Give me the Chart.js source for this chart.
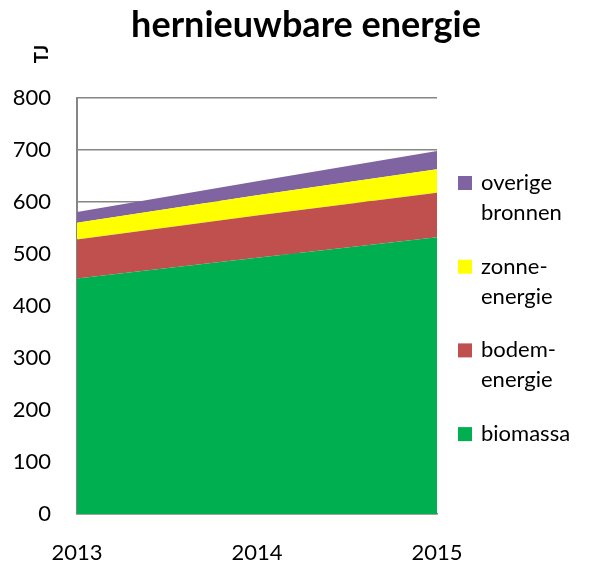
<!DOCTYPE html>
<html>
<head>
<meta charset="utf-8">
<script src="https://cdn.jsdelivr.net/npm/chart.js@4/dist/chart.umd.min.js"></script>
<style>
  html, body { margin: 0; padding: 0; background: #fff; }
  #wrap { width: 590px; height: 562px; }
</style>
</head>
<body>
<div id="wrap"><canvas id="grafiek" width="590" height="562"></canvas></div>
<script>
// data (TJ)
const jaren = ['2013', '2014', '2015'];
const biomassa = [453, 493, 532];
const bodemEnergie = [75, 81, 86];
const zonneEnergie = [32, 39, 45];
const overigeBronnen = [21, 27, 35];
const yTicks = [0, 100, 200, 300, 400, 500, 600, 700, 800];

const FONT = 'Lato, "Open Sans", sans-serif';
const GRIJS = '#868686';

// legenda van boven naar onder, met regels
const legendaItems = [
    { regels: ['overige', 'bronnen'], kleur: '#8064A2' },
    { regels: ['zonne-', 'energie'], kleur: '#FFFF00' },
    { regels: ['bodem-', 'energie'], kleur: '#C0504D' },
    { regels: ['biomassa'], kleur: '#00B050' }
];

const extraTekst = {
    id: 'extraTekst',
    afterDraw(chart) {
        const ctx = chart.ctx;
        const area = chart.chartArea;
        ctx.save();
        // titel
        ctx.fillStyle = '#000';
        ctx.font = 'bold 36px ' + FONT;
        ctx.textAlign = 'center';
        ctx.textBaseline = 'alphabetic';
        ctx.fillText('hernieuwbare energie', 306, 37);
        // eenheid
        ctx.save();
        ctx.translate(42, 54);
        ctx.rotate(-Math.PI / 2);
        ctx.font = 'bold 19px ' + FONT;
        ctx.textAlign = 'center';
        ctx.textBaseline = 'middle';
        ctx.fillText('TJ', 0, 0);
        ctx.restore();
        // legenda
        ctx.font = '22px ' + FONT;
        ctx.textAlign = 'left';
        ctx.textBaseline = 'middle';
        legendaItems.forEach((item, i) => {
            const y = 176 + i * 83.7;
            ctx.fillStyle = item.kleur;
            ctx.fillRect(area.right + 21, y, 14, 14);
            ctx.fillStyle = '#000';
            item.regels.forEach((t, j) => {
                ctx.fillText(t, area.right + 44, y + 7 + j * 30);
            });
        });
        ctx.restore();
    }
};

function maakDataset(label, data, kleur, vul) {
    return {
        label: label,
        data: data,
        backgroundColor: kleur,
        borderColor: kleur,
        borderWidth: 0,
        pointRadius: 0,
        tension: 0,
        fill: vul
    };
}

new Chart(document.getElementById('grafiek'), {
    type: 'line',
    data: {
        labels: jaren,
        datasets: [
            maakDataset('biomassa', biomassa, '#00B050', 'origin'),
            maakDataset('bodem-energie', bodemEnergie, '#C0504D', '-1'),
            maakDataset('zonne-energie', zonneEnergie, '#FFFF00', '-1'),
            maakDataset('overige bronnen', overigeBronnen, '#8064A2', '-1')
        ]
    },
    options: {
        responsive: false,
        animation: false,
        layout: { padding: { left: 0, right: 153, top: 98, bottom: 0 } },
        plugins: { legend: { display: false }, tooltip: { enabled: false }, title: { display: false } },
        scales: {
            x: {
                offset: false,
                grid: { display: false, drawTicks: false },
                border: { display: true, color: GRIJS, width: 1.5 },
                ticks: { padding: 26, color: '#000', font: { family: FONT, size: 22 }, maxRotation: 0 },
                afterFit(scale) { scale.height = 48; }
            },
            y: {
                stacked: true,
                min: 0,
                max: 800,
                afterBuildTicks(scale) { scale.ticks = yTicks.map(v => ({ value: v })); },
                grid: { color: GRIJS, lineWidth: 1.5, drawTicks: false },
                border: { display: true, color: GRIJS, width: 2 },
                ticks: { padding: 26, color: '#000', font: { family: FONT, size: 22 } },
                afterFit(scale) { scale.width = 77; }
            }
        }
    },
    plugins: [extraTekst]
});
</script>
</body>
</html>
